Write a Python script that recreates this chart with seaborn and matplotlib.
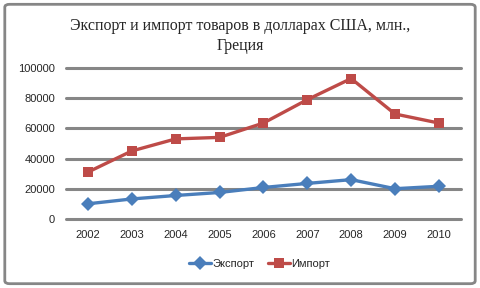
import matplotlib
matplotlib.use("Agg")
import matplotlib.pyplot as plt
import seaborn as sns
import pandas as pd
from matplotlib.patches import FancyBboxPatch

years = ["2002", "2003", "2004", "2005", "2006", "2007", "2008", "2009", "2010"]
export = [10000, 13200, 15500, 17500, 20800, 23500, 26000, 20000, 21600]
imports = [31000, 45000, 53000, 54000, 63500, 79000, 93000, 69500, 63500]
series = ["Экспорт", "Импорт"]
title = "Экспорт и импорт товаров в долларах США, млн.,\nГреция"
yticks = [0, 20000, 40000, 60000, 80000, 100000]

df = pd.DataFrame({
    "year": years * 2,
    "value": export + imports,
    "series": [series[0]] * len(years) + [series[1]] * len(years),
})

sns.set_style("white")
plt.rcParams["font.family"] = ["Liberation Sans", "DejaVu Sans"]

fig = plt.figure(figsize=(4.8, 2.88), dpi=100)
ax = fig.add_axes([0.1375, 0.24, 0.8225, 0.524])

palette = {series[0]: "#4A7EBB", series[1]: "#BE4B48"}
sns.lineplot(data=df, x="year", y="value", hue="series", style="series",
             markers={series[0]: "D", series[1]: "s"}, dashes=False,
             palette=palette, linewidth=2.4, markersize=7.5, markeredgewidth=0,
             sort=False, ax=ax, legend=True)

ax.set_ylim(0, 100000)
ax.set_xlim(-0.5, 8.5)
ax.set_yticks(yticks)
ax.set_yticklabels([str(v) for v in yticks], fontsize=8)
ax.tick_params(axis="x", labelsize=8, length=0, pad=8)
ax.tick_params(axis="y", length=0, pad=8)
ax.yaxis.grid(True, color="#868686", linewidth=2.2)
for gl in ax.get_ygridlines():
    gl.set_clip_on(False)
ax.set_axisbelow(True)
for s in ax.spines.values():
    s.set_visible(False)
ax.set_xlabel("")
ax.set_ylabel("")

ax.legend(loc="center", bbox_to_anchor=(0.49, -0.30), ncol=2, frameon=False,
          fontsize=8, handlelength=2.0, handletextpad=0.1, columnspacing=1.2)

fig.text(0.5, 0.875, title, ha="center", va="center", fontsize=11.5,
         family="Liberation Serif", linespacing=1.25)

border = FancyBboxPatch((0.01, 0.015), 0.98, 0.97, boxstyle="round,pad=0,rounding_size=0.01",
                        transform=fig.transFigure, fill=False, edgecolor="#868686",
                        linewidth=2)
fig.patches.append(border)

fig.savefig("out.png", dpi=100)
